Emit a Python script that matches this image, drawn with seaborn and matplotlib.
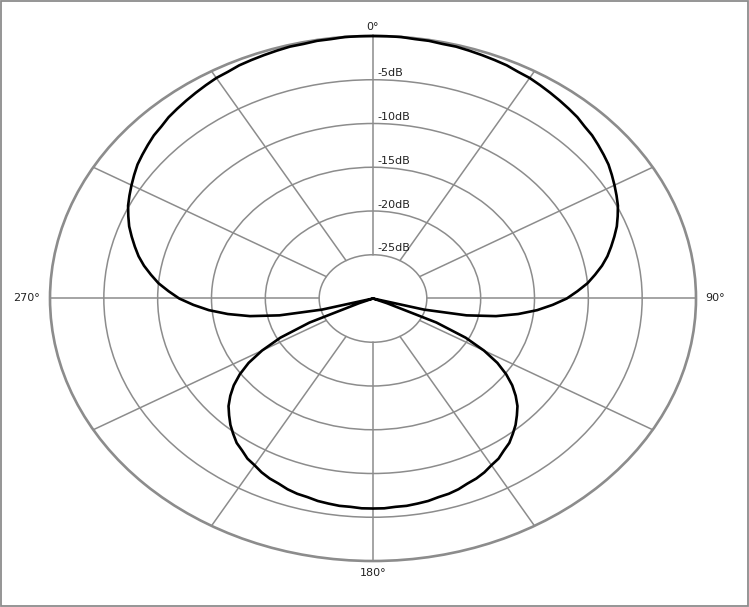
import matplotlib
matplotlib.use("Agg")
import matplotlib.pyplot as plt
from matplotlib.patches import Circle, Rectangle
import numpy as np
import pandas as pd
import seaborn as sns

# polar pickup pattern: front half 0..180 deg every 2.5 deg (dB)
half_angles = [0, 2.5, 5, 7.5, 10, 12.5, 15, 17.5, 20, 22.5, 25, 27.5, 30, 32.5, 35,
               37.5, 40, 42.5, 45, 47.5, 50, 52.5, 55, 57.5, 60, 62.5, 65, 67.5, 70,
               72.5, 75, 77.5, 80, 82.5, 85, 87.5, 90, 92.5, 95, 97.5, 100, 102.5, 105,
               107.5, 110, 112.5, 115, 117.5, 120, 122.5, 125, 127.5, 130, 132.5, 135,
               137.5, 140, 142.5, 145, 147.5, 150, 152.5, 155, 157.5, 160, 162.5, 165,
               167.5, 170, 172.5, 175, 177.5, 180]
half_db = [0.0, 0.0, 0.0, -0.1, -0.1, -0.2, -0.2, -0.3, -0.4, -0.5, -0.6, -0.8, -0.9,
           -1.1, -1.3, -1.5, -1.7, -1.9, -2.2, -2.4, -2.7, -3.0, -3.3, -3.7, -4.1, -4.5,
           -4.9, -5.4, -5.9, -6.5, -7.1, -7.7, -8.4, -9.2, -10.0, -11.0, -12.0, -13.3,
           -14.7, -16.4, -18.4, -21.1, -25.1, -30.0, -30.0, -28.6, -23.5, -20.3, -18.1,
           -16.3, -14.9, -13.7, -12.7, -11.8, -11.1, -10.4, -9.8, -9.2, -8.8, -8.3,
           -8.0, -7.6, -7.3, -7.1, -6.8, -6.6, -6.5, -6.3, -6.2, -6.1, -6.1, -6.0, -6.0]

# the pattern is symmetric left/right
angles = half_angles + [360 - a for a in half_angles[-2::-1]]
level_db = half_db + half_db[-2::-1]

ring_db = [-5, -10, -15, -20, -25]
ring_labels = ["-5dB", "-10dB", "-15dB", "-20dB", "-25dB"]
spoke_angles = [0, 30, 60, 90, 120, 150, 180, 210, 240, 270, 300, 330]
angle_labels = {0: "0°", 90: "90°", 180: "180°", 270: "270°"}

floor_db = -30.0
grid_col = "#8c8c8c"
txt_col = "#222222"


def to_r(db):
    return (np.asarray(db, dtype=float) - floor_db) / -floor_db


sns.set_style("white")
plt.rcParams["font.family"] = ["DejaVu Sans"]

fig = plt.figure(figsize=(7.49, 6.07), dpi=100)
ax = fig.add_axes([0, 0, 1, 1])

# rings (circles in data space turn into ellipses, like the reference)
for db in ring_db:
    ax.add_patch(Circle((0, 0), to_r(db), fill=False, ec=grid_col, lw=1.1, zorder=1))
ax.add_patch(Circle((0, 0), 1.0, fill=False, ec=grid_col, lw=1.9, zorder=1))

# spokes from the -25dB ring to the outer ring
r_in = to_r(-25)
for a in spoke_angles:
    t = np.deg2rad(a)
    ax.plot([r_in * np.sin(t), np.sin(t)], [r_in * np.cos(t), np.cos(t)],
            color=grid_col, lw=1.1, zorder=1)

# ring labels
for db, lab in zip(ring_db, ring_labels):
    ax.text(0.013, to_r(db) + 0.005, lab, ha="left", va="bottom",
            fontsize=8, color=txt_col)

# angle labels
ax.text(0, 1.015, angle_labels[0], ha="center", va="bottom", fontsize=8, color=txt_col)
ax.text(1.03, 0, angle_labels[90], ha="left", va="center", fontsize=8, color=txt_col)
ax.text(0, -1.025, angle_labels[180], ha="center", va="top", fontsize=8, color=txt_col)
ax.text(-1.03, 0, angle_labels[270], ha="right", va="center", fontsize=8, color=txt_col)

# pattern
r = to_r(level_db)
t = np.deg2rad(angles)
df = pd.DataFrame({"x": r * np.sin(t), "y": r * np.cos(t)})
sns.lineplot(data=df, x="x", y="y", sort=False, estimator=None,
             color="black", lw=1.9, ax=ax, zorder=3)
ax.set_xlim(-1.1548, 1.1641)
ax.set_ylim(-1.1752, 1.1371)
ax.axis("off")

# thin border around the picture
fig.patches.append(Rectangle((0.001, 0.002), 0.997, 0.996, transform=fig.transFigure,
                             fill=False, ec=grid_col, lw=1.3))

fig.savefig("out.png", dpi=100)
